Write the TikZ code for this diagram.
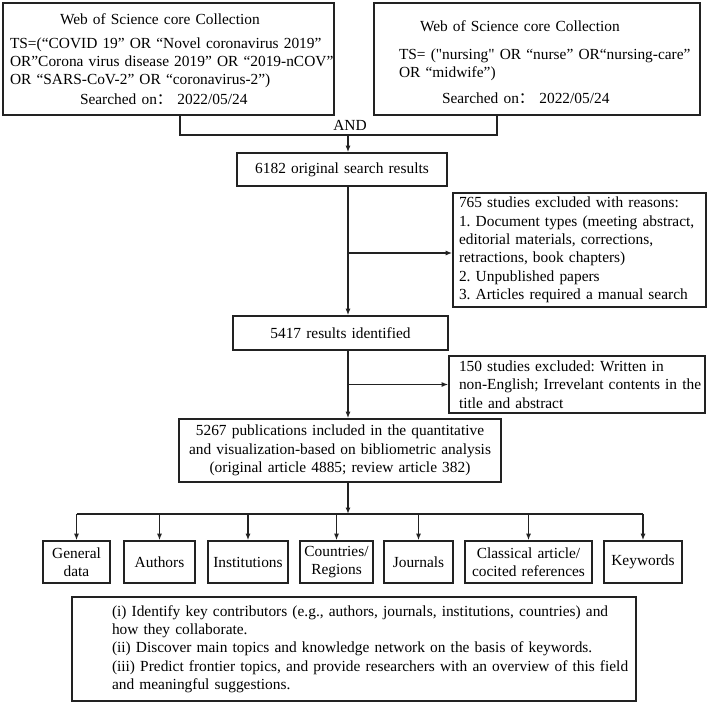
\documentclass[tikz,border=0pt]{standalone}
\usepackage{fontspec}
\setmainfont{Liberation Serif}[Ligatures=TeXOff]
\newfontfamily\cjkfont{Noto Sans CJK SC}
\usetikzlibrary{arrows.meta}
\frenchspacing
\newcommand\myfs{\fontsize{15.4}{18.3}\selectfont}
\definecolor{lc}{HTML}{222222}
\begin{document}
\begin{tikzpicture}[x=1pt,y=-1pt,
  bx/.style={draw=lc, line width=1.6pt, inner sep=0pt, font=\myfs, text=black},
  lbox/.style 2 args={bx, text width=#1, minimum height=#2, align=left},
  cbox/.style 2 args={bx, text width=#1, minimum height=#2, align=center},
  ln/.style={draw=lc, line width=1.3pt},
  arr/.style={ln, -{Latex[length=6.5pt,width=5pt]}},
  lbl/.style={font=\myfs, inner sep=0pt}]
\fill[white] (0,0) rectangle (708,704);
\useasboundingbox (0,0) rectangle (708,704);

% top search boxes
\node[lbox={331pt}{112pt}] (b1) at (168.5,59) {\leftskip=7pt\relax
  \hspace*{50pt}Web of Science core Collection\\[5.7pt]
  TS=(“COVID 19” OR “Novel coronavirus 2019”\\
  OR”Corona virus disease 2019” OR “2019-nCOV”\\
  OR “SARS-CoV-2” OR “coronavirus-2”)\\[1.7pt]
  \hspace*{70pt}Searched on{\cjkfont ：}\hspace{5pt}2022/05/24\par};
\node[lbox={326pt}{112pt}] (b2) at (537,59) {\leftskip=25pt\relax
  \hspace*{21pt}Web of Science core Collection\\[9.7pt]
  TS= ("nursing" OR “nurse” OR“nursing-care”\\
  OR “midwife”)\\[7.7pt]
  \hspace*{43pt}Searched on{\cjkfont ：}\hspace{5pt}2022/05/24\par\vspace{-7pt}};

\node[lbl] (and) at (350,125) {AND};

% main flow
\node[cbox={210pt}{33pt}] (r1) at (342,169.5) {6182 original search results};
\node[lbox={253pt}{114pt}] (ex1) at (579.5,250) {\leftskip=6pt\relax
  765 studies excluded with reasons:\\
  1. Document types (meeting abstract,\\
  editorial materials, corrections,\\
  retractions, book chapters)\\
  2. Unpublished papers\\
  3. Articles required a manual search\par};
\node[cbox={215pt}{34pt}] (r2) at (340.5,333) {5417 results identified};
\node[lbox={256pt}{57pt}] (ex2) at (577,384.5) {\leftskip=10pt\relax
  150 studies excluded: Written in\\
  non-English; Irrevelant contents in the\\
  title and abstract\par};
\node[cbox={322pt}{63pt}] (r3) at (340,450.5) {5267 publications included in the quantitative\\
  and visualization-based on bibliometric analysis\\
  (original article 4885; review article 382)};

% categories
\node[cbox={67pt}{42pt}]  (gd)  at (76.5,562)  {General\\data};
\node[cbox={71pt}{42pt}]  (au)  at (159.5,562) {Authors};
\node[cbox={80pt}{42pt}]  (ins) at (248,562)   {Institutions};
\node[cbox={73pt}{42pt}]  (co)  at (336.5,562) {Countries/\\Regions};
\node[cbox={69pt}{42pt}]  (jo)  at (418.5,562) {Journals};
\node[cbox={127pt}{42pt}] (cl)  at (528.5,562) {Classical article/\\cocited references};
\node[cbox={78pt}{42pt}]  (kw)  at (643,562)   {Keywords};

% aims box
\node[lbox={564pt}{104pt}] (aim) at (354,649) {\leftskip=40pt\relax
  (i) Identify key contributors (e.g., authors, journals, institutions, countries) and\\
  how they collaborate.\\
  (ii) Discover main topics and knowledge network on the basis of keywords.\\
  (iii) Predict frontier topics, and provide researchers with an overview of this field\\
  and meaningful suggestions.\par};

% connectors
\coordinate (j) at (348,135);
\coordinate (bus) at (348,514);
\coordinate (e1) at ([yshift=-3pt]ex1.west);
\draw[ln] ([xshift=11.5pt]b1.south) |- (j) -| ([xshift=-40pt]b2.south);
\draw[arr] (j) -- (j |- r1.north);
\draw[arr] (j |- r1.south) -- (j |- r2.north);
\draw[arr] (e1 -| j) -- (e1);
\draw[arr] (j |- r2.south) -- (j |- r3.north);
\draw[arr] (j |- ex2.west) -- (ex2.west);
\draw[arr] (j |- r3.south) -- (bus);
\draw[ln] (gd.north |- bus) -- (kw.north |- bus);
\foreach \n in {gd,au,ins,co,jo,cl,kw} \draw[arr] (\n.north |- bus) -- (\n.north);
\end{tikzpicture}
\end{document}
